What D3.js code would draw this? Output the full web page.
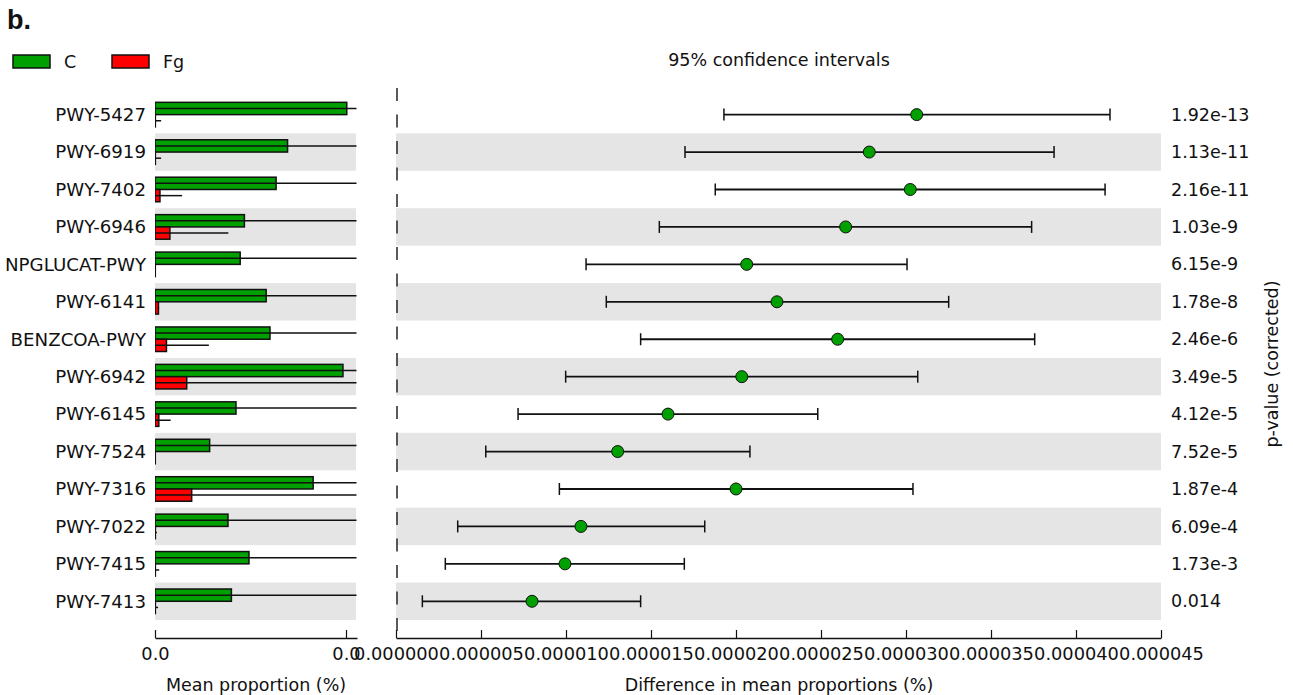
<!DOCTYPE html>
<html>
<head>
<meta charset="utf-8">
<script src="https://cdn.jsdelivr.net/npm/d3@7"></script>
<style>
  body { margin: 0; background: #fff; }
  text { font-family: "DejaVu Sans", sans-serif; fill: #111; }
</style>
</head>
<body>
<svg id="chart"></svg>
<script>
// pathways, top to bottom
const pathways = ["PWY-5427", "PWY-6919", "PWY-7402", "PWY-6946", "NPGLUCAT-PWY", "PWY-6141",
  "BENZCOA-PWY", "PWY-6942", "PWY-6145", "PWY-7524", "PWY-7316", "PWY-7022", "PWY-7415", "PWY-7413"];

// mean proportion (%) per group, with std dev
const meanC  = [0.0000502, 0.0000347, 0.0000317, 0.0000234, 0.0000223, 0.0000291, 0.0000301,
                0.0000492, 0.0000212, 0.0000143, 0.0000414, 0.0000191, 0.0000246, 0.0000200];
const sdC    = [0.0000560, 0.0000620, 0.0000590, 0.0000540, 0.0000570, 0.0000600, 0.0000580,
                0.0000650, 0.0000550, 0.0000520, 0.0000610, 0.0000530, 0.0000560, 0.0000540];
const meanFg = [0.0000001, 0.0000001, 0.0000013, 0.0000039, 0.0000000, 0.0000009, 0.0000030,
                0.0000083, 0.0000010, 0.0000000, 0.0000096, 0.0000001, 0.0000001, 0.0000001];
const sdFg   = [0.0000015, 0.0000015, 0.0000058, 0.0000153, 0.0000000, 0.0000002, 0.0000111,
                0.0000600, 0.0000031, 0.0000000, 0.0000600, 0.0000004, 0.0000010, 0.0000007];

// difference in mean proportions and 95% CI
const diffMean = [0.00003063, 0.00002784, 0.00003025, 0.00002645, 0.00002063, 0.00002241, 0.00002598,
                  0.00002034, 0.00001600, 0.00001304, 0.00002000, 0.00001088, 0.00000994, 0.00000800];
const ciLow    = [0.00001929, 0.00001700, 0.00001878, 0.00001549, 0.00001118, 0.00001237, 0.00001439,
                  0.00000998, 0.00000718, 0.00000528, 0.00000961, 0.00000363, 0.00000290, 0.00000155];
const ciHigh   = [0.00004200, 0.00003871, 0.00004171, 0.00003739, 0.00003006, 0.00003251, 0.00003757,
                  0.00003069, 0.00002481, 0.00002082, 0.00003041, 0.00001816, 0.00001696, 0.00001439];
const pValues  = ["1.92e-13", "1.13e-11", "2.16e-11", "1.03e-9", "6.15e-9", "1.78e-8", "2.46e-6",
                  "3.49e-5", "4.12e-5", "7.52e-5", "1.87e-4", "6.09e-4", "1.73e-3", "0.014"];

const groups = ["C", "Fg"];
const groupColors = ["#00a000", "#ff0000"];
const leftTicks = [0, 0.00005];
const rightTicks = [0, 0.000005, 0.00001, 0.000015, 0.00002, 0.000025, 0.00003, 0.000035, 0.00004, 0.000045];

const width = 1293, height = 695;
const axisY = 638;

const svg = d3.select("#chart").attr("width", width).attr("height", height);

const y = d3.scaleBand().domain(pathways).range([95.9, 620]);
const bw = y.bandwidth();
const xL = d3.scaleLinear().domain([0, 0.00005 * 202 / 191]).range([155, 357]);
const xR = d3.scaleLinear().domain([0, 0.000045]).range([396, 1161]);

const rows = pathways.map((p, i) => ({
  p, i, c: meanC[i], cs: sdC[i], f: meanFg[i], fs: sdFg[i],
  d: diffMean[i], lo: ciLow[i], hi: ciHigh[i], pv: pValues[i]
}));

svg.append("defs").append("clipPath").attr("id", "clipL")
  .append("rect").attr("x", 155).attr("y", 0).attr("width", 201.5).attr("height", height);

// "b." panel letter
svg.append("text").attr("x", 7).attr("y", 29)
  .style("font-family", "'Liberation Sans', sans-serif")
  .style("font-weight", "bold").style("font-size", "27px").text("b.");

// legend
const leg = svg.append("g").selectAll("g").data(groups).enter().append("g")
  .attr("transform", (d, i) => `translate(${13 + i * 99},55)`);
leg.append("rect").attr("width", 37).attr("height", 13)
  .attr("fill", (d, i) => groupColors[i]).attr("stroke", "#111").attr("stroke-width", 1.5);
leg.append("text").attr("x", 51).attr("y", 7).attr("dy", "0.35em")
  .style("font-size", "17.5px").text(d => d);

// shaded bands
const bandRows = rows.filter(r => r.i % 2 === 1);
svg.append("g").selectAll("rect").data(bandRows).enter().append("rect")
  .attr("x", xL(0)).attr("width", 201).attr("y", r => y(r.p)).attr("height", bw).attr("fill", "#e5e5e5");
svg.append("g").selectAll("rect").data(bandRows).enter().append("rect")
  .attr("x", xR.range()[0]).attr("width", xR.range()[1] - xR.range()[0])
  .attr("y", r => y(r.p)).attr("height", bw).attr("fill", "#e5e5e5");

// category labels
svg.append("g").selectAll("text").data(rows).enter().append("text")
  .attr("x", 146).attr("y", r => y(r.p) + bw / 2).attr("dy", "0.35em")
  .attr("text-anchor", "end").style("font-size", "18.2px").text(r => r.p);

// left bars
const barH = bw * 0.328;
const left = svg.append("g").attr("clip-path", "url(#clipL)");
const barSets = [
  { mean: r => r.c, sd: r => r.cs, off: -barH, color: groupColors[0] },
  { mean: r => r.f, sd: r => r.fs, off: 0, color: groupColors[1] }
];
barSets.forEach(s => {
  left.append("g").selectAll("rect").data(rows).enter().append("rect")
    .attr("x", xL(0)).attr("y", r => y(r.p) + bw / 2 + s.off)
    .attr("width", r => Math.max(0.3, xL(s.mean(r)) - xL(0))).attr("height", barH)
    .attr("fill", s.color).attr("stroke", "#111").attr("stroke-width", 1.5);
  left.append("g").selectAll("line").data(rows.filter(r => s.sd(r) > 0)).enter().append("line")
    .attr("x1", r => xL(Math.max(0, s.mean(r) - s.sd(r))))
    .attr("x2", r => xL(s.mean(r) + s.sd(r)))
    .attr("y1", r => y(r.p) + bw / 2 + s.off + barH / 2)
    .attr("y2", r => y(r.p) + bw / 2 + s.off + barH / 2)
    .attr("stroke", "#111").attr("stroke-width", 1.5);
});

// zero reference line for the CI panel
svg.append("line").attr("x1", xR(0) + 1).attr("x2", xR(0) + 1).attr("y1", 88).attr("y2", axisY)
  .attr("stroke", "#333").attr("stroke-width", 1.6).attr("stroke-dasharray", "13,13.5");

// confidence intervals
const ci = svg.append("g");
ci.selectAll(".ci").data(rows).enter().append("line").attr("class", "ci")
  .attr("x1", r => xR(r.lo)).attr("x2", r => xR(r.hi))
  .attr("y1", r => y(r.p) + bw / 2).attr("y2", r => y(r.p) + bw / 2)
  .attr("stroke", "#111").attr("stroke-width", 1.8);
["lo", "hi"].forEach(k => {
  ci.selectAll(".cap-" + k).data(rows).enter().append("line").attr("class", "cap-" + k)
    .attr("x1", r => xR(r[k])).attr("x2", r => xR(r[k]))
    .attr("y1", r => y(r.p) + bw / 2 - 6).attr("y2", r => y(r.p) + bw / 2 + 6)
    .attr("stroke", "#111").attr("stroke-width", 1.5);
});
ci.selectAll("circle").data(rows).enter().append("circle")
  .attr("cx", r => xR(r.d)).attr("cy", r => y(r.p) + bw / 2).attr("r", 6)
  .attr("fill", groupColors[0]).attr("stroke", "#111").attr("stroke-width", 1);

// p-values
svg.append("g").selectAll("text").data(rows).enter().append("text")
  .attr("x", 1171).attr("y", r => y(r.p) + bw / 2).attr("dy", "0.35em")
  .style("font-size", "17.5px").text(r => r.pv);

// axes
function styleAxis(g) {
  g.select(".domain").attr("stroke", "#111").attr("stroke-width", 1.6);
  g.selectAll(".tick line").attr("stroke", "#111").attr("stroke-width", 1.2);
  g.selectAll(".tick text").style("font-size", "17.8px").style("font-family", "'DejaVu Sans', sans-serif").attr("fill", "#111");
}
svg.append("g").attr("transform", `translate(0,${axisY})`)
  .call(d3.axisBottom(xL).tickValues(leftTicks).tickFormat(d3.format(".1f"))
    .tickSizeInner(-8).tickSizeOuter(0).tickPadding(9))
  .call(styleAxis);
svg.append("g").attr("transform", `translate(0,${axisY})`)
  .call(d3.axisBottom(xR).tickValues(rightTicks).tickFormat(d3.format(".6f"))
    .tickSizeInner(-8).tickSizeOuter(0).tickPadding(9))
  .call(styleAxis);

// titles
svg.append("text").attr("x", 256).attr("y", 691).attr("text-anchor", "middle")
  .style("font-size", "17.5px").text("Mean proportion (%)");
svg.append("text").attr("x", 779).attr("y", 691).attr("text-anchor", "middle")
  .style("font-size", "17.5px").text("Difference in mean proportions (%)");
svg.append("text").attr("x", 779).attr("y", 66).attr("text-anchor", "middle")
  .style("font-size", "17.5px").text("95% confidence intervals");
svg.append("text").attr("transform", "translate(1272,364) rotate(-90)").attr("dy", "0.35em")
  .attr("text-anchor", "middle").style("font-size", "17.5px").text("p-value (corrected)");
</script>
</body>
</html>
